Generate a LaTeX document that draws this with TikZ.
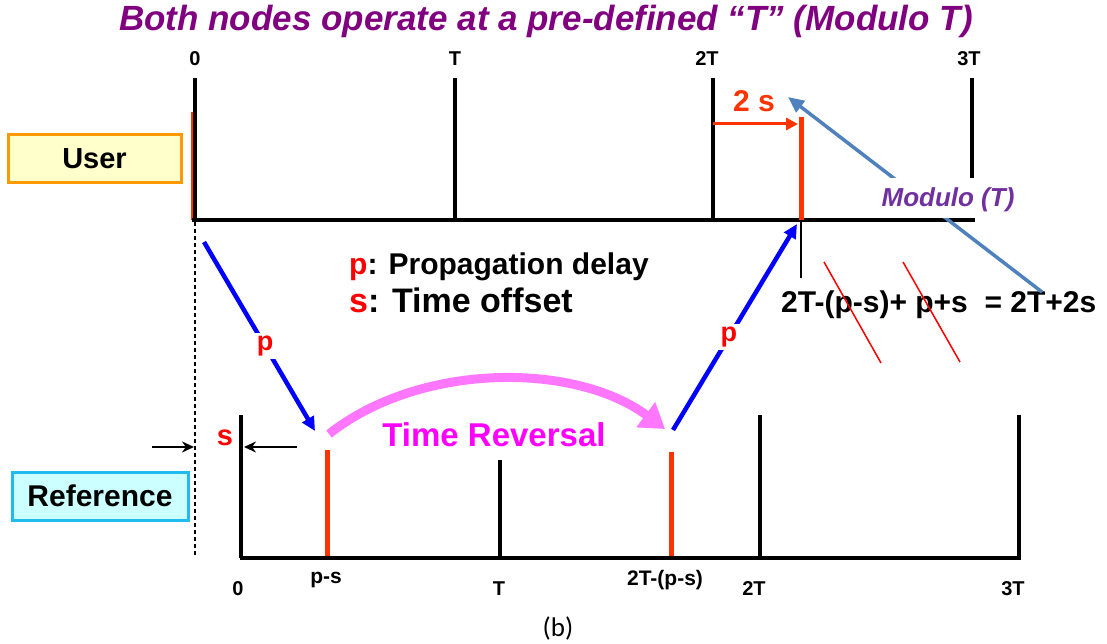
\documentclass[tikz,border=0pt]{standalone}
\usepackage{fontspec}
\setmainfont{Liberation Sans}
\newfontfamily\capfont{Carlito}
\usetikzlibrary{arrows.meta}
\newcommand{\fsz}[1]{\fontsize{#1}{#1}\selectfont}
\definecolor{ored}{HTML}{FF3300}
\definecolor{tred}{HTML}{FF0000}
\definecolor{tblue}{HTML}{0000FF}
\definecolor{steel}{HTML}{4F81BD}
\definecolor{ttl}{HTML}{800080}
\definecolor{modc}{HTML}{7030A0}
\definecolor{pinkarc}{HTML}{FF77FF}
\definecolor{magtxt}{HTML}{FF00FF}
\definecolor{ufill}{HTML}{FFFFCC}
\definecolor{uedge}{HTML}{FF9900}
\definecolor{rfill}{HTML}{CCFFFF}
\definecolor{redge}{HTML}{22BBEE}
\tikzset{
  axis/.style={line width=3.2pt, black},
  tick/.style={line width=3.2pt, black},
  redmark/.style={line width=5pt, ored},
  lbl/.style={font=\bfseries\fsz{20}, inner sep=0pt},
  blbl/.style={font=\bfseries\fsz{20}, inner sep=0pt},
  slbl/.style={font=\bfseries\fsz{21}, inner sep=0pt},
  bluearr/.style={line width=4.5pt, tblue, -{Triangle[length=14pt,width=13pt]}},
  plbl/.style={font=\bfseries\fsz{27}, text=tred, fill=white, inner sep=3pt},
  smallarr/.style={line width=2.5pt, black, -{Stealth[length=12pt,width=11pt]}},
  strike/.style={line width=1.5pt, tred},
}
\begin{document}
\begin{tikzpicture}[x=1pt,y=-1pt]
\useasboundingbox (0,0) rectangle (1107,644);
% title
\node[font=\bfseries\itshape\fsz{35}, text=ttl, inner sep=0pt] (title) at (546,21) {Both nodes operate at a pre-defined “T” (Modulo T)};
% top labels
\node[lbl] (t0) at (195,59) {0};
\node[lbl] (t1) at (455,59) {T};
\node[lbl] (t2) at (707,59) {2T};
\node[lbl] (t3) at (969,59) {3T};
% top timeline
\coordinate (ua0) at (195,78); \coordinate (ub0) at (195,220);
\coordinate (ua1) at (455,78); \coordinate (ub1) at (455,220);
\coordinate (ua2) at (713,78); \coordinate (ub2) at (713,220);
\coordinate (ua3) at (972,78); \coordinate (ub3) at (972,220);
\coordinate (uend) at (975,220); \coordinate (ustart) at (192,220);
\draw[line width=4pt, ored] (193,112) -- (193,220);
\draw[tick] (ua0) -- (ub0);
\draw[tick] (ua1) -- (ub1);
\draw[tick] (ua2) -- (ub2);
\draw[tick] (ua3) -- (ub3);
\draw[axis] (ustart) -- (uend);
% 2s
\coordinate (rtop) at (801,117); \coordinate (rbot) at (801,220);
\draw[redmark] (rtop) -- (rbot);
\coordinate (s2a) at (713,124); \coordinate (s2b) at (798,124);
\draw[line width=3pt, ored, -{Triangle[length=12pt,width=12pt]}] (s2a) -- (s2b);
\node[font=\bfseries\fsz{30}, text=ored, inner sep=0pt] (twos) at (754,101) {2 s};
% thin tick below
\coordinate (tk) at (801,278);
\draw[line width=1.5pt] (rbot) -- (tk);
% formula
\node[font=\bfseries\fsz{30}, anchor=west, inner sep=0pt] (formula) at (781,305) {2T-(p-s)+ p+s\ \ = 2T+2s};
\draw[strike] (824,262) -- (881,363);
\draw[strike] (903,262) -- (960,362);
% modulo arrow
\coordinate (ms) at (1042,292); \coordinate (me) at (788,97);
\draw[line width=3.5pt, steel, -{Triangle[length=16pt,width=14pt]}] (ms) -- (me);
\node[fill=white, minimum width=142pt, minimum height=40pt, inner sep=0pt] (modbox) at (949,198) {};
\node[font=\bfseries\itshape\fsz{26}, text=modc, inner sep=0pt] (mod) at (948,200) {Modulo (T)};
% boxes
\node[draw=uedge, fill=ufill, line width=3pt, minimum width=173pt, minimum height=48pt, font=\bfseries\fsz{29}] (user) at (94.5,159) {User};
\node[draw=redge, fill=rfill, line width=3pt, minimum width=176pt, minimum height=48pt, font=\bfseries\fsz{30}] (ref) at (100,496) {Reference};
% dashed line
\coordinate (da) at (195,222); \coordinate (db) at (195,556);
\draw[line width=2pt, dash pattern=on 4pt off 3pt] (da) -- (db);
% legend
\node[font=\bfseries\fsz{30}, anchor=west, inner sep=0pt] (leg1) at (349,267) {\textcolor{tred}{p}: Propagation delay};
\node[font=\bfseries\fsz{34}, anchor=west, inner sep=0pt] (leg2) at (349,300) {\textcolor{tred}{s}: Time offset};
% bottom timeline
\coordinate (ra0) at (241,415); \coordinate (rb0) at (241,558);
\coordinate (ra1) at (500,460); \coordinate (rb1) at (500,558);
\coordinate (ra2) at (760,415); \coordinate (rb2) at (760,558);
\coordinate (ra3) at (1019,415); \coordinate (rb3) at (1019,558);
\draw[tick] (ra0) -- (rb0);
\draw[tick] (ra1) -- (rb1);
\draw[tick] (ra2) -- (rb2);
\draw[tick] (ra3) -- (rb3);
\coordinate (pa) at (327,450); \coordinate (pb) at (327,558);
\coordinate (qa) at (671,452); \coordinate (qb) at (671,558);
\draw[redmark] (pa) -- (pb);
\draw[redmark] (qa) -- (qb);
\draw[axis] (239.5,558) -- (1020.5,558);
% bottom labels
\node[blbl] (b0) at (238,589) {0};
\node[slbl] (bps) at (326,580) {p-s};
\node[blbl] (b1) at (499,589) {T};
\node[slbl] (b2ps) at (665,580) {2T-(p-s)};
\node[blbl] (b2) at (754,589) {2T};
\node[blbl] (b3) at (1013,589) {3T};
% s arrows
\coordinate (sa1) at (152,447); \coordinate (sa2) at (194,447);
\coordinate (sb1) at (297,447); \coordinate (sb2) at (244,447);
\draw[smallarr] (sa1) -- (sa2);
\draw[smallarr] (sb1) -- (sb2);
\node[font=\bfseries\fsz{29}, text=tred, inner sep=0pt] (slab) at (225,438) {s};
% blue arrows
\coordinate (ba1) at (204,242); \coordinate (ba2) at (315,431);
\draw[bluearr] (ba1) -- node[plbl, pos=0.55] (p1) {p} (ba2);
\coordinate (bb1) at (673,430); \coordinate (bb2) at (797,224);
\draw[bluearr] (bb1) -- node[plbl, pos=0.45] (p2) {p} (bb2);
% time reversal arc
\coordinate (ta) at (329,434); \coordinate (tb) at (665,429);
\draw[line width=9pt, pinkarc, -{Triangle[length=24pt,width=30pt]}] (ta) .. controls (420,362) and (575,362) .. (tb);
\node[font=\bfseries\fsz{33}, text=magtxt, inner sep=0pt] (trev) at (494,435) {Time Reversal};
% caption
\node[font=\capfont\fsz{27}, inner sep=0pt] (cap) at (558,628) {(b)};
\end{tikzpicture}
\end{document}
